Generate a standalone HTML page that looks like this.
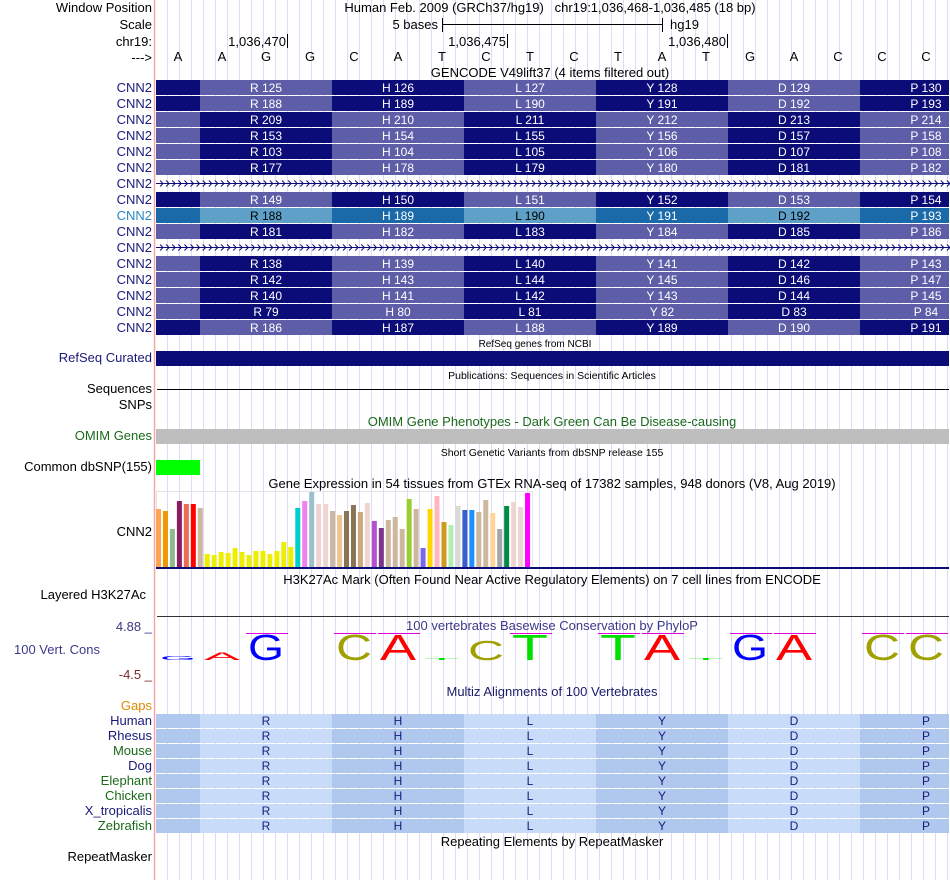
<!DOCTYPE html>
<html><head><meta charset="utf-8">
<style>
html,body{margin:0;padding:0;background:#fff;}
svg{display:block;font-family:"Liberation Sans",Arial,sans-serif;}
</style></head>
<body>
<svg id="root" width="950" height="880" viewBox="0 0 950 880" xmlns="http://www.w3.org/2000/svg">
<g id="grid"></g>
<line x1="154.5" y1="0" x2="154.5" y2="880" stroke="#f4a8a8" stroke-width="1.5"/>

<g font-size="13" fill="#000" text-anchor="end">
<text x="152" y="12">Window Position</text>
<text x="152" y="29">Scale</text>
<text x="152" y="46">chr19:</text>
<text x="152" y="62">---&gt;</text>
<text x="152" y="362" fill="#1a1a7a">RefSeq Curated</text>
<text x="152" y="393">Sequences</text>
<text x="152" y="409">SNPs</text>
<text x="152" y="440" fill="#1a6a1a">OMIM Genes</text>
<text x="152" y="471">Common dbSNP(155)</text>
<text x="152" y="536">CNN2</text>
<text x="146" y="599">Layered H3K27Ac</text>
<text x="152" y="631" fill="#3a3a8a">4.88 _</text>
<text x="100" y="654" fill="#3a3a8a">100 Vert. Cons</text>
<text x="152" y="679" fill="#7a2a2a">-4.5 _</text>
<text x="152" y="710" fill="#e08a00">Gaps</text>
<text x="152" y="861">RepeatMasker</text>
</g>

<g font-size="13" text-anchor="middle">
<text x="550" y="12">Human Feb. 2009 (GRCh37/hg19) &#160;&#160;chr19:1,036,468-1,036,485 (18 bp)</text>
<text x="550" y="77">GENCODE V49lift37 (4 items filtered out)</text>
<text x="535" y="347" font-size="10">RefSeq genes from NCBI</text>
<text x="552" y="379" font-size="10.5">Publications: Sequences in Scientific Articles</text>
<text x="552" y="426" fill="#1a6a1a">OMIM Gene Phenotypes - Dark Green Can Be Disease-causing</text>
<text x="552" y="456" font-size="10.5">Short Genetic Variants from dbSNP release 155</text>
<text x="552" y="488">Gene Expression in 54 tissues from GTEx RNA-seq of 17382 samples, 948 donors (V8, Aug 2019)</text>
<text x="552" y="584">H3K27Ac Mark (Often Found Near Active Regulatory Elements) on 7 cell lines from ENCODE</text>
<text x="552" y="630" fill="#3a3a8a">100 vertebrates Basewise Conservation by PhyloP</text>
<text x="552" y="696" fill="#1a1a6a">Multiz Alignments of 100 Vertebrates</text>
<text x="552" y="846">Repeating Elements by RepeatMasker</text>
</g>

<g font-size="13">
<text x="438" y="29" text-anchor="end">5 bases</text>
<line x1="442.5" y1="18" x2="442.5" y2="32" stroke="#000"/>
<line x1="442" y1="24.5" x2="662" y2="24.5" stroke="#000"/>
<line x1="662.5" y1="18" x2="662.5" y2="32" stroke="#000"/>
<text x="670" y="29">hg19</text>
</g>
<g id="ruler" font-size="13"></g>
<g id="bases" font-size="13" text-anchor="middle"></g>
<g id="genes"></g>

<rect x="156" y="351" width="793" height="15" fill="#0c0c78"/>
<line x1="157" y1="389.5" x2="949" y2="389.5" stroke="#000"/>
<rect x="156" y="429" width="793" height="15" fill="#bebebe"/>
<rect x="156" y="460" width="44" height="15" fill="#00ff00"/>

<g id="gtex"></g>
<line x1="157" y1="616.5" x2="949" y2="616.5" stroke="#333"/>
<g id="cons"></g>
<g id="multiz"></g>
</svg>
<script>
const NS='http://www.w3.org/2000/svg';
function mk(tag,parent,attrs){const e=document.createElementNS(NS,tag);for(const k in attrs)e.setAttribute(k,attrs[k]);parent.appendChild(e);return e;}

// ---- data ----
const baseSeq=['A','A','G','G','C','A','T','C','T','C','T','A','T','G','A','C','C','C'];
const rulerLabels=['1,036,470','1,036,475','1,036,480'];
const rulerBaseIdx=[2,7,12];
const codonAA=['R','H','L','Y','D','P'];
const geneStarts=[125,188,209,153,103,177,null,149,188,181,null,138,142,140,79,186];
const geneFirstDark=[1,1,0,0,0,0,null,1,1,0,null,0,0,0,0,1];
const gtexValues=[58,56,38,66,63,63,59,13,12,15,14,19,15,12,16,16,13,16,25,20,59,66,75,63,63,56,52,56,62,55,64,46,39,47,50,38,68,58,19,58,71,45,42,61,57,57,55,67,54,38,61,65,60,74];
const gtexColors=['#FFA54F','#EE9A00','#8FBC8F','#8B1C62','#EE6A50','#FF0000','#CDB79E','#EEEE00','#EEEE00','#EEEE00','#EEEE00','#EEEE00','#EEEE00','#EEEE00','#EEEE00','#EEEE00','#EEEE00','#EEEE00','#EEEE00','#EEEE00','#00CDCD','#EE82EE','#9AC0CD','#EED5D2','#EED5D2','#CDB79E','#EEC591','#8B7355','#8B7355','#CDAA7D','#EED5D2','#B452CD','#7A378B','#CDB79E','#CDB79E','#CDB79E','#9ACD32','#CDB79E','#7A67EE','#FFD700','#FFB6C1','#CD9B1D','#B4EEB4','#D9D9D9','#3A5FCD','#1E90FF','#CDB79E','#CDB79E','#FFD39B','#A6A6A6','#008B45','#EED5D2','#EED5D2','#FF00FF'];
const consLetters=['G','A','G','G','C','A','T','C','T','C','T','A','T','G','A','C','C','C'];
const consScores=[0.7,1.3,4.4,0,4.4,4.4,0.3,3.4,4.4,0,4.4,4.4,0.3,4.4,4.4,0,4.4,4.4];
const species=['Human','Rhesus','Mouse','Dog','Elephant','Chicken','X_tropicalis','Zebrafish'];
const speciesGreen=[0,0,1,0,1,1,0,1];

// ---- scales ----
const X0=156, BW=44;
const bx=i=>X0+BW*i;
const bc=i=>X0+BW*i+BW/2;
const codonX=c=>X0+BW+c*3*BW;

const grid=document.getElementById('grid');
for(let x=167;x<950;x+=12){const l=mk('line',grid,{x1:x+.5,y1:0,x2:x+.5,y2:880,stroke:'#dcdcf6'});

}

const ruler=document.getElementById('ruler');
rulerLabels.forEach((t,k)=>{const xe=bx(rulerBaseIdx[k]+1);
const tx=mk('text',ruler,{x:xe-2,y:46,'text-anchor':'end'});tx.textContent=t;


const tk=mk('line',ruler,{x1:xe-.5,y1:34,x2:xe-.5,y2:48,stroke:'#000'});

});

const bases=document.getElementById('bases');
baseSeq.forEach((b,i)=>{const t=mk('text',bases,{x:bc(i),y:61});t.textContent=b;

});

const genes=document.getElementById('genes');
const DARK='#0c0c78',LIGHT='#5e5ea8',HD='#1a6aaa',HL='#5ea0c8';
geneStarts.forEach((s,r)=>{
  const y=80+16*r;
  const lab=mk('text',genes,{x:152,y:y+12,'font-size':13,'text-anchor':'end',fill:r===8?'#2a8ac0':'#1a1a7a'});lab.textContent='CNN2';
  
  
  if(s===null){
    const ln=mk('line',genes,{x1:156,y1:y+7.5,x2:949,y2:y+7.5,stroke:DARK});
    
    
    let d='';for(let x=160;x<948;x+=6.1){d+=`M${x.toFixed(1)} ${y+4.5}L${(x+3).toFixed(1)} ${y+7.5}L${x.toFixed(1)} ${y+10.5}`;}
    const p=mk('path',genes,{d:d,stroke:DARK,fill:'none','stroke-width':1});
    
    
    return;
  }
  const hl=r===8, fd=geneFirstDark[r];
  const dk=hl?HD:DARK, lt=hl?HL:LIGHT;
  for(let c=-1;c<6;c++){
    const x0=c<0?156:codonX(c), x1=c<0?codonX(0):Math.min(codonX(c)+132,949);
    const isDark=((c+1)%2===0)?fd:!fd;
    const rc=mk('rect',genes,{x:x0,y:y,width:x1-x0,height:15,fill:isDark?dk:lt});
    
    
    if(c>=0){const t=mk('text',genes,{x:codonX(c)+66,y:y+12,'font-size':12,'text-anchor':'middle',fill:(hl&&!isDark)?'#000':'#fff'});
      t.textContent=codonAA[c]+' '+(s+c);
      
      }
  }
});

const gtex=document.getElementById('gtex');
const GB=567, GMAX=75, GH=75;
const gy=v=>GB-v/GMAX*GH;
const frame=mk('rect',gtex,{x:156.5,y:491.5,width:376,height:76,fill:'none',stroke:'#e4e4e4'});


const pitch=376/54;
gtexValues.forEach((v,i)=>{const b=mk('rect',gtex,{x:(156+i*pitch).toFixed(2),y:gy(v),width:5,height:GB-gy(v),fill:gtexColors[i]});

});
const gl=mk('rect',gtex,{x:156,y:567,width:793,height:2,fill:'#0c0c78'});



const cons=document.getElementById('cons');
const CBASE=660, CMAX=4.4, CH=26;
const colorOf={A:'#ff0000',C:'#a0a000',G:'#0000ff',T:'#00e000'};
consScores.forEach((s,i)=>{
  if(s<=0)return;
  const h=s/CMAX*CH;
  const t=mk('text',cons,{x:0,y:0,'font-size':40,fill:colorOf[consLetters[i]],textLength:36,lengthAdjust:'spacingAndGlyphs',
    transform:`translate(${bc(i)-18},${CBASE}) scale(1,${(h/29).toFixed(3)})`});
  t.textContent=consLetters[i];
  
  
  if(s>=4){const m=mk('line',cons,{x1:bx(i)+2,y1:633.5,x2:Math.min(bx(i)+44,949),y2:633.5,stroke:'#e000e0'});
    
    }
});

const multiz=document.getElementById('multiz');
species.forEach((sp,r)=>{
  const y=714+15*r;
  const lab=mk('text',multiz,{x:152,y:y+11,'font-size':13,'text-anchor':'end',fill:speciesGreen[r]?'#1a6a1a':'#1a1a7a'});lab.textContent=sp;
  
  
  for(let c=-1;c<6;c++){
    const x0=c<0?156:codonX(c), x1=c<0?codonX(0):Math.min(codonX(c)+132,949);
    const rc=mk('rect',multiz,{x:x0,y:y,width:x1-x0,height:14,fill:(c+1)%2===0?'#b0c8ee':'#c8dcfa'});
    
    
    if(c>=0){const t=mk('text',multiz,{x:codonX(c)+66,y:y+11,'font-size':12,'text-anchor':'middle',fill:'#1a1a7a'});t.textContent=codonAA[c];
      
      }
  }
});
</script>
</body></html>
